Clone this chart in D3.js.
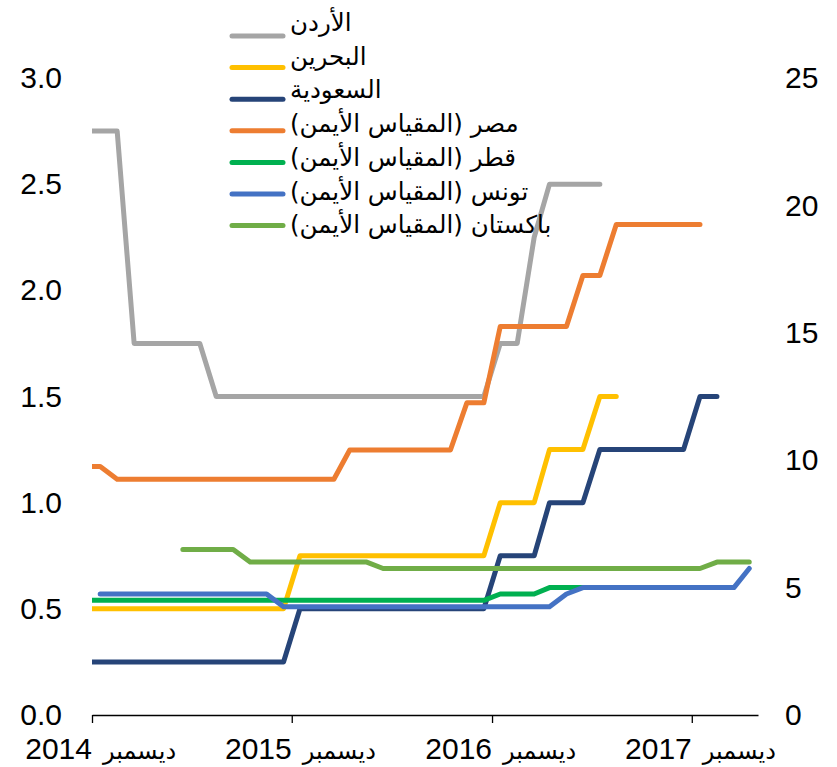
<!DOCTYPE html>
<html>
<head>
<meta charset="utf-8">
<script src="https://cdn.jsdelivr.net/npm/d3@7"></script>
<style>
  body { margin: 0; background: #fff; }
  svg { display: block; }
</style>
</head>
<body>
<div id="chart"></div>
<script>
const width = 837;
const height = 767;

// monthly observations, Nov 2014 .. Mar 2018
const months = [
  "2014-11", "2014-12",
  "2015-01", "2015-02", "2015-03", "2015-04", "2015-05", "2015-06", "2015-07", "2015-08", "2015-09", "2015-10", "2015-11", "2015-12",
  "2016-01", "2016-02", "2016-03", "2016-04", "2016-05", "2016-06", "2016-07", "2016-08", "2016-09", "2016-10", "2016-11", "2016-12",
  "2017-01", "2017-02", "2017-03", "2017-04", "2017-05", "2017-06", "2017-07", "2017-08", "2017-09", "2017-10", "2017-11", "2017-12",
  "2018-01", "2018-02", "2018-03"
];

// left axis
const jordan = [
  2.75, 2.75,
  2.75, 1.75, 1.75, 1.75, 1.75, 1.75, 1.5, 1.5, 1.5, 1.5, 1.5, 1.5,
  1.5, 1.5, 1.5, 1.5, 1.5, 1.5, 1.5, 1.5, 1.5, 1.5, 1.5, 1.75,
  1.75, 2.25, 2.5, 2.5, 2.5, 2.5, null, null, null, null, null, null,
  null, null, null
];
const bahrain = [
  0.5, 0.5,
  0.5, 0.5, 0.5, 0.5, 0.5, 0.5, 0.5, 0.5, 0.5, 0.5, 0.5, 0.75,
  0.75, 0.75, 0.75, 0.75, 0.75, 0.75, 0.75, 0.75, 0.75, 0.75, 0.75, 1.0,
  1.0, 1.0, 1.25, 1.25, 1.25, 1.5, 1.5, null, null, null, null, null,
  null, null, null
];
const saudi = [
  0.25, 0.25,
  0.25, 0.25, 0.25, 0.25, 0.25, 0.25, 0.25, 0.25, 0.25, 0.25, 0.25, 0.5,
  0.5, 0.5, 0.5, 0.5, 0.5, 0.5, 0.5, 0.5, 0.5, 0.5, 0.5, 0.75,
  0.75, 0.75, 1.0, 1.0, 1.0, 1.25, 1.25, 1.25, 1.25, 1.25, 1.25, 1.5,
  1.5, null, null
];

// right axis
const egypt = [
  9.75, 9.75,
  9.25, 9.25, 9.25, 9.25, 9.25, 9.25, 9.25, 9.25, 9.25, 9.25, 9.25, 9.25,
  9.25, 9.25, 10.4, 10.4, 10.4, 10.4, 10.4, 10.4, 10.4, 12.25, 12.25, 15.25,
  15.25, 15.25, 15.25, 15.25, 17.25, 17.25, 19.25, 19.25, 19.25, 19.25, 19.25, 19.25,
  null, null, null
];
const qatar = [
  4.5, 4.5,
  4.5, 4.5, 4.5, 4.5, 4.5, 4.5, 4.5, 4.5, 4.5, 4.5, 4.5, 4.5,
  4.5, 4.5, 4.5, 4.5, 4.5, 4.5, 4.5, 4.5, 4.5, 4.5, 4.5, 4.75,
  4.75, 4.75, 5.0, 5.0, 5.0, null, null, null, null, null, null, null,
  null, null, null
];
const tunisia = [
  null, 4.75,
  4.75, 4.75, 4.75, 4.75, 4.75, 4.75, 4.75, 4.75, 4.75, 4.75, 4.25, 4.25,
  4.25, 4.25, 4.25, 4.25, 4.25, 4.25, 4.25, 4.25, 4.25, 4.25, 4.25, 4.25,
  4.25, 4.25, 4.25, 4.75, 5.0, 5.0, 5.0, 5.0, 5.0, 5.0, 5.0, 5.0,
  5.0, 5.0, 5.75
];
const pakistan = [
  null, null,
  null, null, null, null, 6.5, 6.5, 6.5, 6.5, 6.0, 6.0, 6.0, 6.0,
  6.0, 6.0, 6.0, 6.0, 5.75, 5.75, 5.75, 5.75, 5.75, 5.75, 5.75, 5.75,
  5.75, 5.75, 5.75, 5.75, 5.75, 5.75, 5.75, 5.75, 5.75, 5.75, 5.75, 5.75,
  6.0, 6.0, 6.0
];

const names = [
  "الأردن",
  "البحرين",
  "السعودية",
  "مصر (المقياس الأيمن)",
  "قطر (المقياس الأيمن)",
  "تونس (المقياس الأيمن)",
  "باكستان (المقياس الأيمن)"
];
const values = [jordan, bahrain, saudi, egypt, qatar, tunisia, pakistan];
const axisSide = ["left", "left", "left", "right", "right", "right", "right"];
const colors = ["#A5A5A5", "#FFC000", "#264478", "#ED7D31", "#00B050", "#4472C4", "#70AD47"];

const xTickMonths = ["2014-12", "2015-12", "2016-12", "2017-12"];
const xTickYears = ["2014", "2015", "2016", "2017"];
const xTickWord = "ديسمبر";
const leftTicks = [0, 0.5, 1.0, 1.5, 2.0, 2.5, 3.0];
const rightTicks = [0, 5, 10, 15, 20, 25];

const latinFont = "'Liberation Sans', Arial, sans-serif";
const arabicFont = "'DejaVu Sans', 'Liberation Sans', sans-serif";

main();

function main() {
  const plot = {l: 92, r: 758, t: 78, b: 715};
  const parseMonth = d3.timeParse("%Y-%m");
  const mid = m => d3.timeDay.offset(parseMonth(m), 15);

  const x = d3.scaleTime()
    .domain([parseMonth("2014-12"), parseMonth("2018-04")])
    .range([plot.l, plot.r]);
  const yLeft = d3.scaleLinear().domain([0, 3]).range([plot.b, plot.t]);
  const yRight = d3.scaleLinear().domain([0, 25]).range([plot.b, plot.t]);

  const svg = d3.select("#chart").append("svg")
    .attr("width", width)
    .attr("height", height);

  svg.append("defs").append("clipPath")
    .attr("id", "clip")
    .append("rect")
    .attr("x", plot.l).attr("y", 0)
    .attr("width", width - plot.l).attr("height", height);

  // x axis
  const xAxis = svg.append("g")
    .attr("transform", `translate(0,${plot.b})`)
    .call(d3.axisBottom(x)
      .tickValues(xTickMonths.map(parseMonth))
      .tickSize(8)
      .tickSizeOuter(0)
      .tickFormat(""));
  xAxis.selectAll("path, line").attr("stroke", "#000").attr("stroke-width", 1.3);

  xTickMonths.forEach((m, i) => {
    const tx = x(parseMonth(m));
    svg.append("text")
      .attr("x", tx).attr("y", 759)
      .attr("text-anchor", "end")
      .style("font-family", latinFont)
      .style("font-size", "30px")
      .text(xTickYears[i]);
    svg.append("text")
      .attr("x", tx + 11).attr("y", 759)
      .attr("text-anchor", "start")
      .style("font-family", arabicFont)
      .style("font-size", "24px")
      .text(xTickWord);
  });

  // y axes, labels only
  const left = svg.append("g")
    .attr("transform", `translate(${plot.l},0)`)
    .call(d3.axisLeft(yLeft).tickValues(leftTicks).tickSize(0).tickPadding(30).tickFormat(d3.format(".1f")));
  const right = svg.append("g")
    .attr("transform", `translate(${plot.r},0)`)
    .call(d3.axisRight(yRight).tickValues(rightTicks).tickSize(0).tickPadding(27));
  for (let g of [left, right]) {
    g.select(".domain").remove();
    g.selectAll("text")
      .style("font-family", latinFont)
      .style("font-size", "30px")
      .attr("fill", "#000");
  }

  // lines
  const lines = svg.append("g").attr("clip-path", "url(#clip)");
  values.forEach((vals, i) => {
    const y = axisSide[i] === "left" ? yLeft : yRight;
    const pts = months.map((m, j) => ({date: mid(m), v: vals[j]}));
    const line = d3.line()
      .defined(d => d.v != null)
      .x(d => x(d.date))
      .y(d => y(d.v));
    lines.append("path")
      .datum(pts)
      .attr("d", line)
      .attr("fill", "none")
      .attr("stroke", colors[i])
      .attr("stroke-width", 5)
      .attr("stroke-linejoin", "round")
      .attr("stroke-linecap", "round");
  });

  // legend
  const legend = svg.append("g");
  names.forEach((n, i) => {
    const ly = 36 + i * 31.6;
    legend.append("line")
      .attr("x1", 232).attr("x2", 283)
      .attr("y1", ly).attr("y2", ly)
      .attr("stroke", colors[i])
      .attr("stroke-width", 5)
      .attr("stroke-linecap", "round");
    legend.append("text")
      .attr("x", 290).attr("y", 31 + i * 33.7)
      .attr("direction", "rtl")
      .attr("text-anchor", "end")
      .style("font-family", arabicFont)
      .style("font-size", "24.5px")
      .text(n);
  });
}
</script>
</body>
</html>
